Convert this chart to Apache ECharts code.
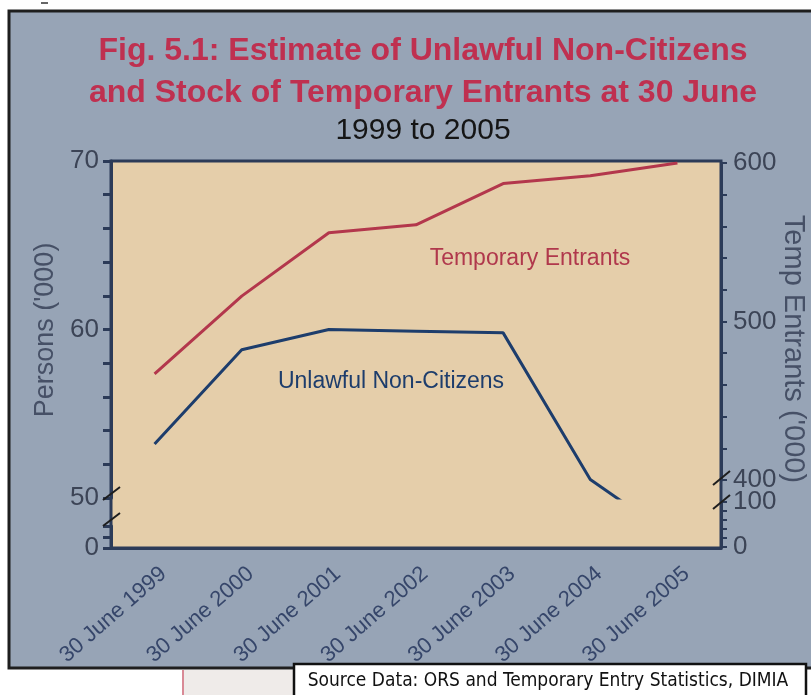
<!DOCTYPE html>
<html>
<head>
<meta charset="utf-8">
<script src="https://cdn.jsdelivr.net/npm/echarts@6/dist/echarts.min.js"></script>
<style>
  html, body { margin: 0; padding: 0; background: #fff; }
  #chart { width: 811px; height: 695px; }
</style>
</head>
<body>
<div id="chart"></div>
<script>
// values
const categories = ['30 June 1999', '30 June 2000', '30 June 2001', '30 June 2002', '30 June 2003', '30 June 2004', '30 June 2005']
const unlawfulNonCitizens = [53.2, 58.8, 60.0, 59.9, 59.8, 51.1, 47.5] // '000, left axis
const tempEntrants = [467, 516, 556, 561, 587, 592, 600] // '000, right axis
const leftMajor = [50, 60, 70]
const rightMajor = [0, 100, 400, 500, 600]

const axisColor = '#2c3b58'
const labelColor = '#3c4456'
const font = 'Liberation Sans, Arial, sans-serif'

const chart = echarts.init(document.getElementById('chart'))

const yLabel = (list) => ({
  color: labelColor,
  fontSize: 26,
  fontFamily: font,
  margin: 12,
  formatter: (v) => (list.includes(v) ? String(v) : '')
})

const hiddenX = (grid) => ({
  type: 'category', gridIndex: grid, data: categories, boundaryGap: true, show: false
})

const option = {
  animation: false,
  backgroundColor: '#ffffff',
  title: {
    text: 'Fig. 5.1: Estimate of Unlawful Non-Citizens\nand Stock of Temporary Entrants at 30 June',
    subtext: '1999 to 2005',
    left: 418,
    top: 25,
    textAlign: 'center',
    itemGap: 2,
    textStyle: { color: '#bf3050', fontSize: 32, fontWeight: 'bold', fontFamily: font, lineHeight: 42 },
    subtextStyle: { color: '#151515', fontSize: 30, fontFamily: font }
  },
  grid: [
    { left: 111, top: 161, width: 610, height: 337 }, // upper, left scale 50-70
    { left: 111, top: 163, width: 610, height: 317 }, // upper, right scale 400-600
    { left: 111, top: 526, width: 610, height: 22 },  // lower, left scale 0
    { left: 111, top: 502, width: 610, height: 45 },  // lower, right scale 0-100
    { left: 120, top: 526, width: 610, height: 22 }   // category labels only
  ],
  xAxis: [
    hiddenX(0),
    hiddenX(1),
    {
      type: 'category', gridIndex: 2, data: categories, boundaryGap: true,
      axisLine: { lineStyle: { color: axisColor, width: 3 } },
      axisTick: { alignWithLabel: true, length: 4, lineStyle: { color: axisColor, width: 2 } },
      axisLabel: { show: false }
    },
    hiddenX(3),
    {
      type: 'category', gridIndex: 4, data: categories, boundaryGap: true,
      axisLine: { show: false },
      axisTick: { show: false },
      axisLabel: { rotate: 41, color: '#36466a', fontSize: 22, fontFamily: font, margin: 23, interval: 0 }
    }
  ],
  yAxis: [
    {
      type: 'value', gridIndex: 0, position: 'left', min: 50, max: 70, interval: 2,
      splitLine: { show: false },
      axisLine: { show: true, lineStyle: { color: axisColor, width: 3 } },
      axisTick: { show: true, length: 8, lineStyle: { color: axisColor, width: 3 } },
      axisLabel: yLabel(leftMajor)
    },
    {
      type: 'value', gridIndex: 1, position: 'right', min: 400, max: 600, interval: 20,
      splitLine: { show: false },
      axisLine: { show: true, lineStyle: { color: axisColor, width: 3 } },
      axisTick: { show: true, length: 6, lineStyle: { color: axisColor, width: 2 } },
      axisLabel: yLabel(rightMajor)
    },
    {
      type: 'value', gridIndex: 2, position: 'left', min: 0, max: 2, interval: 1,
      splitLine: { show: false },
      axisLine: { show: true, lineStyle: { color: axisColor, width: 3 } },
      axisTick: { show: true, length: 8, lineStyle: { color: axisColor, width: 3 } },
      axisLabel: yLabel(leftMajor.concat([0]))
    },
    {
      type: 'value', gridIndex: 3, position: 'right', min: 0, max: 100, interval: 20,
      splitLine: { show: false },
      axisLine: { show: true, lineStyle: { color: axisColor, width: 3 } },
      axisTick: { show: true, length: 6, lineStyle: { color: axisColor, width: 2 } },
      axisLabel: yLabel(rightMajor)
    },
    { type: 'value', gridIndex: 4, show: false }
  ],
  series: [
    {
      name: 'Unlawful Non-Citizens',
      type: 'line',
      xAxisIndex: 0,
      yAxisIndex: 0,
      data: unlawfulNonCitizens,
      showSymbol: false,
      clip: true,
      lineStyle: { color: '#1d3d6c', width: 3 },
      z: 5
    },
    {
      name: 'Temporary Entrants',
      type: 'line',
      xAxisIndex: 1,
      yAxisIndex: 1,
      data: tempEntrants,
      showSymbol: false,
      lineStyle: { color: '#b3374c', width: 3 },
      z: 5
    }
  ],
  graphic: [
    // outer panel
    { type: 'rect', z: -20, shape: { x: 9, y: 11, width: 815, height: 657 },
      style: { fill: '#97a4b6', stroke: '#1e1e1e', lineWidth: 3 } },
    { type: 'line', z: -20, shape: { x1: 41, y1: 3, x2: 48, y2: 3 }, style: { stroke: '#333', lineWidth: 1.5 } },
    // plot area
    { type: 'rect', z: -10, shape: { x: 111, y: 161, width: 610, height: 387 },
      style: { fill: '#e5ceaa', stroke: axisColor, lineWidth: 3 } },
    // axis break marks
    { type: 'line', z: 20, shape: { x1: 103, y1: 500, x2: 120, y2: 487 }, style: { stroke: '#1e1e1e', lineWidth: 2 } },
    { type: 'line', z: 20, shape: { x1: 103, y1: 526, x2: 120, y2: 513 }, style: { stroke: '#1e1e1e', lineWidth: 2 } },
    { type: 'line', z: 20, shape: { x1: 713, y1: 485, x2: 730, y2: 471 }, style: { stroke: '#1e1e1e', lineWidth: 2 } },
    { type: 'line', z: 20, shape: { x1: 713, y1: 509, x2: 730, y2: 495 }, style: { stroke: '#1e1e1e', lineWidth: 2 } },
    // axis names
    { type: 'text', z: 20, x: 46, y: 330, rotation: Math.PI / 2,
      style: { text: "Persons ('000)", fill: '#465066', fontSize: 27, fontFamily: font, align: 'center', verticalAlign: 'middle' } },
    { type: 'text', z: 20, x: 793, y: 349, rotation: -Math.PI / 2,
      style: { text: "Temp Entrants ('000)", fill: '#465066', fontSize: 29, fontFamily: font, align: 'center', verticalAlign: 'middle' } },
    // series annotations
    { type: 'text', z: 20, x: 530, y: 259,
      style: { text: 'Temporary Entrants', fill: '#b0384c', fontSize: 23, fontFamily: font, align: 'center', verticalAlign: 'middle' } },
    { type: 'text', z: 20, x: 391, y: 382,
      style: { text: 'Unlawful Non-Citizens', fill: '#1d3d6c', fontSize: 23, fontFamily: font, align: 'center', verticalAlign: 'middle' } },
    // below the panel
    { type: 'rect', z: -20, shape: { x: 183, y: 670, width: 115, height: 25 }, style: { fill: '#efebe9' } },
    { type: 'line', z: -20, shape: { x1: 183, y1: 670, x2: 183, y2: 695 }, style: { stroke: '#d98a96', lineWidth: 2 } },
    // source box
    { type: 'rect', z: 20, shape: { x: 294, y: 664, width: 512, height: 34 },
      style: { fill: '#ffffff', stroke: '#111', lineWidth: 2.5 } },
    { type: 'text', z: 21, x: 548, y: 681,
      style: { text: 'Source Data: ORS and Temporary Entry Statistics, DIMIA', fill: '#111', fontSize: 19,
        fontFamily: 'DejaVu Sans Condensed, Liberation Sans Narrow, sans-serif', align: 'center', verticalAlign: 'middle' } }
  ]
}

chart.setOption(option)
window.addEventListener('resize', () => chart.resize())
</script>
</body>
</html>
